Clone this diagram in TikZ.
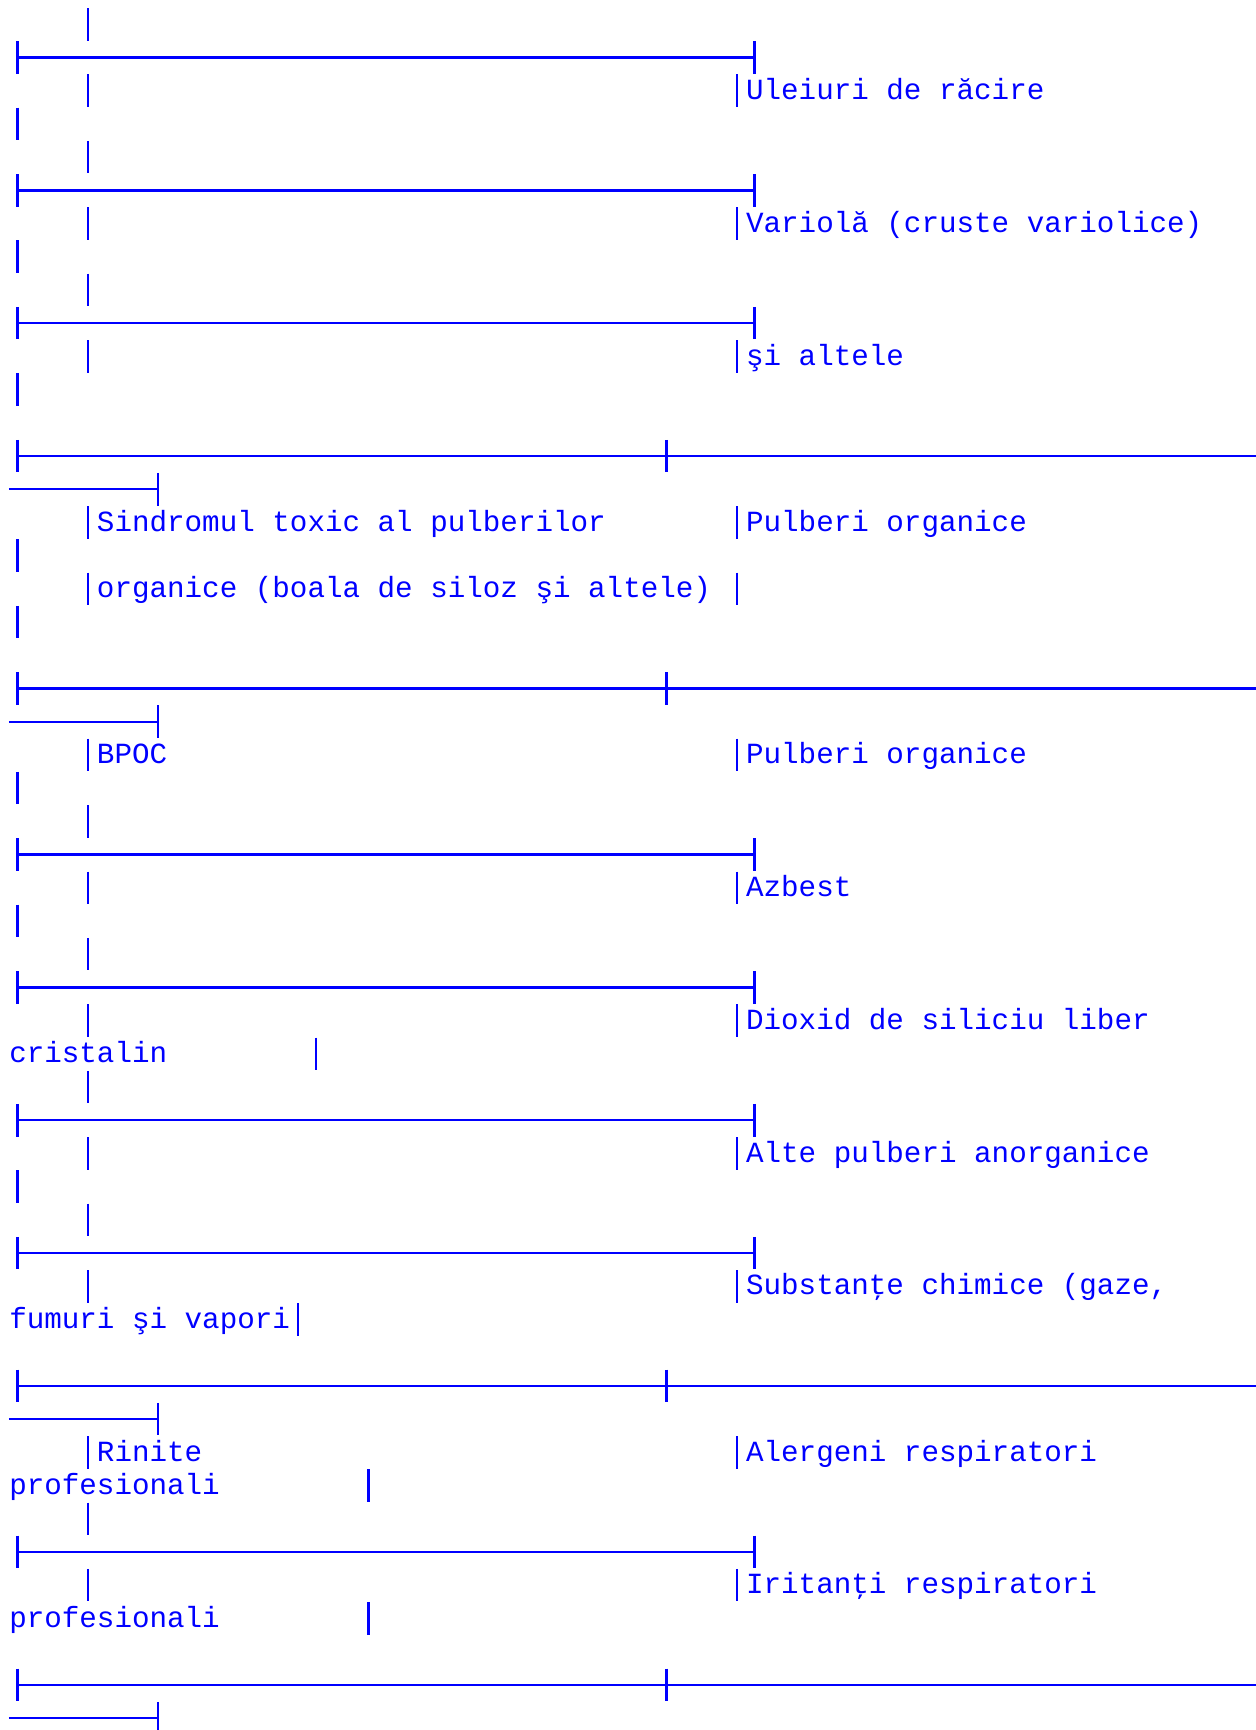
\documentclass[tikz,border=0pt]{standalone}
\usepackage{fontspec}
\setmonofont{Liberation Mono}
\definecolor{boxblue}{RGB}{0,0,255}

\begin{document}
\begin{tikzpicture}[x=7.95pt,y=-15.05pt,
  bar/.style={boxblue,line width=1pt},
  rule/.style={boxblue,line width=1.1pt},
  txt/.style={anchor=base west,inner sep=0pt,text=boxblue,
    font=\ttfamily\fontsize{13.25}{15}\selectfont}]
  \useasboundingbox (-0.503,-0.731) rectangle (71.07,51.36);

  % bars, one character cell high
  \foreach \r in {3,7,11,16,18,23,27,35}
    \draw[bar] (0.5,\r-0.49) -- (0.5,\r+0.49);
  \foreach \r in {0,2,4,6,8,10,15,17,22,24,26,28,30,32,34,36,38,43,45,47}
    \draw[bar] (4.5,\r-0.49) -- (4.5,\r+0.49);
  \foreach \r in {2,6,10,15,17,22,26,30,34,38,43,47}
    \draw[bar] (41.5,\r-0.49) -- (41.5,\r+0.49);
  \draw[bar] (17.5,31-0.49) -- (17.5,31+0.49);
  \draw[bar] (16.5,39-0.49) -- (16.5,39+0.49);
  \draw[bar] (20.5,44-0.49) -- (20.5,44+0.49);
  \draw[bar] (20.5,48-0.49) -- (20.5,48+0.49);

  % short rules
  \foreach \r in {1,5,9,25,29,33,37,46}
    \draw[rule] (0.5,\r) -- (42.5,\r) (0.5,\r-0.49) -- (0.5,\r+0.49)
      (42.5,\r-0.49) -- (42.5,\r+0.49);

  % long rules, wrapped onto the next line
  \foreach \r in {13,20,41,50} {
    \draw[rule] (0.5,\r) -- (71.07,\r) (0.5,\r-0.49) -- (0.5,\r+0.49)
      (37.5,\r-0.49) -- (37.5,\r+0.49);
    \draw[rule] (0,\r+1) -- (8.5,\r+1) (8.5,\r+0.51) -- (8.5,\r+1.49);
  }

  \node[txt] (uleiuri) at (42,2+0.26) {Uleiuri de răcire};
  \node[txt] (variola) at (42,6+0.26) {Variolă (cruste variolice)};
  \node[txt] (altele) at (42,10+0.26) {şi altele};
  \node[txt] (sindrom) at (5,15+0.26) {Sindromul toxic al pulberilor};
  \node[txt] (pulberi1) at (42,15+0.26) {Pulberi organice};
  \node[txt] (siloz) at (5,17+0.26) {organice (boala de siloz şi altele)};
  \node[txt] (bpoc) at (5,22+0.26) {BPOC};
  \node[txt] (pulberi2) at (42,22+0.26) {Pulberi organice};
  \node[txt] (azbest) at (42,26+0.26) {Azbest};
  \node[txt] (dioxid) at (42,30+0.26) {Dioxid de siliciu liber};
  \node[txt] (cristalin) at (0,31+0.26) {cristalin};
  \node[txt] (anorganice) at (42,34+0.26) {Alte pulberi anorganice};
  \node[txt] (chimice) at (42,38+0.26) {Substanţe chimice (gaze,};
  \node[txt] (fumuri) at (0,39+0.26) {fumuri şi vapori};
  \node[txt] (rinite) at (5,43+0.26) {Rinite};
  \node[txt] (alergeni) at (42,43+0.26) {Alergeni respiratori};
  \node[txt] (prof1) at (0,44+0.26) {profesionali};
  \node[txt] (iritanti) at (42,47+0.26) {Iritanţi respiratori};
  \node[txt] (prof2) at (0,48+0.26) {profesionali};
\end{tikzpicture}
\end{document}
